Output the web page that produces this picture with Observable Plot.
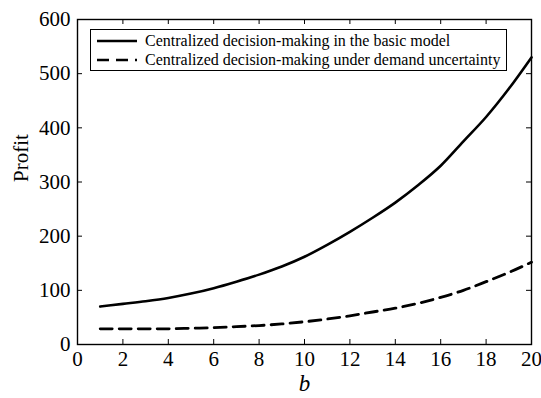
<!DOCTYPE html>
<html>
<head>
<meta charset="utf-8">
<script src="https://cdn.jsdelivr.net/npm/d3@7"></script>
<script src="https://cdn.jsdelivr.net/npm/@observablehq/plot@0.6"></script>
<style>
  html, body { margin: 0; padding: 0; background: #fff; }
  #chart, #chart svg, #chart svg text, #legend {
    font-family: "Liberation Serif", "Times New Roman", Times, serif !important;
  }
  #chart { position: relative; width: 541px; height: 398px; }
  #legend {
    position: absolute; left: 90px; top: 29px; width: 415px; height: 39px;
    border: 1.3px solid #000; background: #fff; box-sizing: content-box;
    font-size: 16px; line-height: 19px; padding-top: 1px;
  }
  #legend .row { display: flex; align-items: center; height: 19px; white-space: nowrap; }
  #legend svg { margin-left: 6px; margin-right: 8px; flex: none; }
</style>
</head>
<body>
<div id="chart"></div>
<script>
// Channel parameter b
const b = [1, 2, 3, 4, 5, 6, 7, 8, 9, 10, 11, 12, 13, 14, 15, 16, 17, 18, 19, 20];
// Profit under centralized decision-making, basic model
const basicProfit = [70, 75, 80, 86, 94, 104, 116, 129, 144, 162, 184, 208, 234, 262, 294, 330, 375, 420, 472, 530];
// Profit under centralized decision-making with demand uncertainty
const uncertainProfit = [29, 29, 29, 29, 30, 31, 33, 35, 38, 42, 47, 53, 60, 67, 76, 87, 100, 116, 133, 152];

const seriesNames = [
  "Centralized decision-making in the basic model",
  "Centralized decision-making under demand uncertainty"
];
const xTicks = [0, 2, 4, 6, 8, 10, 12, 14, 16, 18, 20];
const yTicks = [0, 100, 200, 300, 400, 500, 600];

const W = 541, H = 398;
const mL = 77, mR = 10, mT = 19, mB = 54;
const innerW = W - mL - mR, innerH = H - mT - mB;
const tickLen = 5;

const basic = b.map((v, i) => ({b: v, profit: basicProfit[i]}));
const uncertain = b.map((v, i) => ({b: v, profit: uncertainProfit[i]}));

const serif = "Liberation Serif, Times New Roman, serif";

const plot = Plot.plot({
  width: W,
  height: H,
  marginLeft: mL,
  marginRight: mR,
  marginTop: mT,
  marginBottom: mB,
  style: {fontFamily: serif, fontSize: "20px", color: "#000", background: "#fff"},
  x: {domain: [0, 20]},
  y: {domain: [0, 600]},
  marks: [
    // inward ticks on all four sides
    Plot.ruleX(xTicks, {x: d => d, insetTop: innerH - tickLen, stroke: "#000", strokeWidth: 1}),
    Plot.ruleX(xTicks, {x: d => d, insetBottom: innerH - tickLen, stroke: "#000", strokeWidth: 1}),
    Plot.ruleY(yTicks, {y: d => d, insetRight: innerW - tickLen, stroke: "#000", strokeWidth: 1}),
    Plot.ruleY(yTicks, {y: d => d, insetLeft: innerW - tickLen, stroke: "#000", strokeWidth: 1}),
    Plot.axisX(xTicks, {tickSize: 0, tickPadding: 7, fontSize: 21, fontFamily: serif, label: null}),
    Plot.axisY(yTicks, {tickSize: 0, tickPadding: 7, fontSize: 21, fontFamily: serif, label: null}),
    Plot.text(["b"], {frameAnchor: "bottom", dy: 46, fontSize: 23, fontStyle: "italic", fontFamily: serif, text: d => d}),
    Plot.text(["Profit"], {frameAnchor: "left", dx: -56, rotate: -90, fontSize: 21, fontFamily: serif, text: d => d}),
    Plot.line(basic, {x: "b", y: "profit", curve: "monotone-x", stroke: "#000", strokeWidth: 2.6}),
    Plot.line(uncertain, {x: "b", y: "profit", curve: "monotone-x", stroke: "#000", strokeWidth: 2.8, strokeDasharray: "12,7"}),
    Plot.frame({stroke: "#000", strokeWidth: 1.4})
  ]
});

const chart = document.getElementById("chart");
chart.appendChild(plot);

const legend = document.createElement("div");
legend.id = "legend";
legend.innerHTML = seriesNames.map((name, i) => `
  <div class="row">
    <svg width="40" height="10"><line x1="0" x2="40" y1="5" y2="5" stroke="#000" stroke-width="2.6" ${i === 1 ? 'stroke-dasharray="12,7"' : ''}/></svg>
    <span>${name}</span>
  </div>`).join("");
chart.appendChild(legend);
</script>
</body>
</html>
